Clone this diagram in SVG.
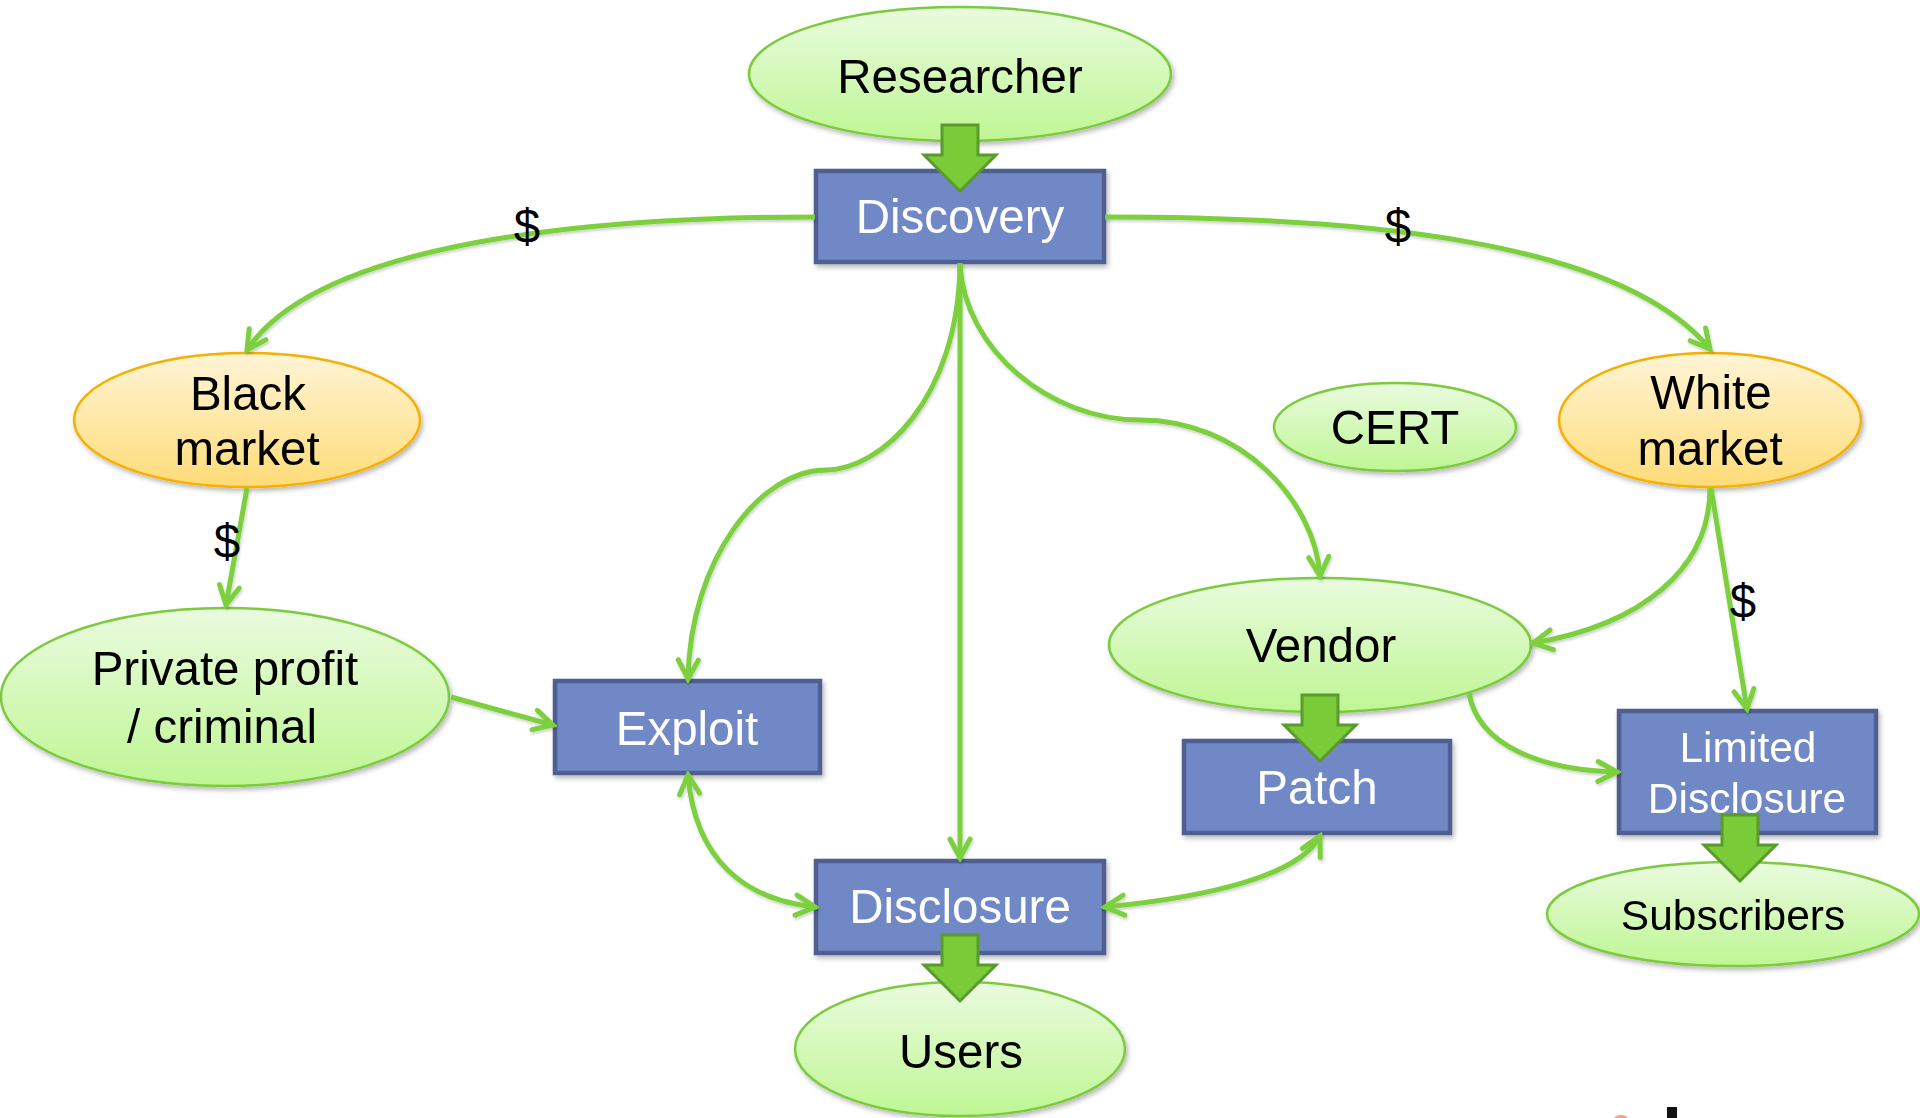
<svg xmlns="http://www.w3.org/2000/svg" width="1920" height="1118" viewBox="0 0 1920 1118">
<style>
  .g { fill: url(#gGreen); stroke: #7CCB3E; stroke-width: 2.5; }
  .y { fill: url(#gYellow); stroke: #F5B000; stroke-width: 2.5; }
  .b { fill: #7089C6; stroke: #4F6190; stroke-width: 4.5; }
  .t { font-family: "Liberation Sans", Arial, sans-serif; font-size: 47.5px; text-anchor: middle; fill: #000; }
  .w { fill: #fff; }
  .s { font-size: 42.5px; }
  .c { fill: none; stroke: #7CD03C; stroke-width: 5; }
  .blk { fill: #7ACD38; stroke: #5B9A2C; stroke-width: 3; stroke-linejoin: miter; }
  .sh { filter: url(#shadow); }
</style>
<defs>
  <linearGradient id="gGreen" x1="0" y1="0" x2="0" y2="1">
    <stop offset="0" stop-color="#EAFBDF"/>
    <stop offset="1" stop-color="#BFF694"/>
  </linearGradient>
  <linearGradient id="gYellow" x1="0" y1="0" x2="0" y2="1">
    <stop offset="0" stop-color="#FFF4D6"/>
    <stop offset="1" stop-color="#FFDC78"/>
  </linearGradient>
  <filter id="shadow" x="-10%" y="-10%" width="130%" height="140%">
    <feDropShadow dx="2" dy="3" stdDeviation="2.5" flood-color="#000" flood-opacity="0.28"/>
  </filter>
  <filter id="lshadow" x="-5%" y="-5%" width="110%" height="115%">
    <feDropShadow dx="1" dy="2" stdDeviation="1.5" flood-color="#000" flood-opacity="0.2"/>
  </filter>
  <marker id="arr" markerUnits="userSpaceOnUse" markerWidth="30" markerHeight="30" viewBox="0 0 30 30" refX="26" refY="15" orient="auto-start-reverse">
    <path d="M7,5 L26,15 L7,25" fill="none" stroke="#7CD03C" stroke-width="5" stroke-linecap="round" stroke-linejoin="miter"/>
  </marker>
  <path id="bigArrow" d="M-18,0 H18 V30 H36 L0,66 L-36,30 H-18 Z"/>
</defs>

<rect width="1920" height="1118" fill="#fff"/>

<g id="nodes">
  <g id="researcher" class="sh">
    <ellipse class="g" cx="960" cy="74" rx="211" ry="67"/>
    <text class="t" x="960" y="93">Researcher</text>
  </g>
  <g id="discovery" class="sh">
    <rect class="b" x="816" y="171" width="288" height="91"/>
    <text class="t w" x="960" y="233">Discovery</text>
  </g>
  <g id="black-market" class="sh">
    <ellipse class="y" cx="247" cy="420" rx="173" ry="67"/>
    <text class="t" x="248" y="410">Black</text>
    <text class="t" x="247" y="465">market</text>
  </g>
  <g id="white-market" class="sh">
    <ellipse class="y" cx="1710" cy="420" rx="151" ry="67"/>
    <text class="t" x="1711" y="409">White</text>
    <text class="t" x="1710" y="465">market</text>
  </g>
  <g id="cert" class="sh">
    <ellipse class="g" cx="1395" cy="427" rx="121" ry="44"/>
    <text class="t" x="1395" y="444">CERT</text>
  </g>
  <g id="private-profit" class="sh">
    <ellipse class="g" cx="225" cy="697" rx="224" ry="89"/>
    <text class="t" x="225" y="685">Private profit</text>
    <text class="t" x="222" y="743">/ criminal</text>
  </g>
  <g id="exploit" class="sh">
    <rect class="b" x="555" y="681" width="265" height="92"/>
    <text class="t w" x="687" y="745">Exploit</text>
  </g>
  <g id="vendor" class="sh">
    <ellipse class="g" cx="1320" cy="645" rx="211" ry="67"/>
    <text class="t" x="1321" y="662">Vendor</text>
  </g>
  <g id="patch" class="sh">
    <rect class="b" x="1184" y="741" width="266" height="92"/>
    <text class="t w" x="1317" y="804">Patch</text>
  </g>
  <g id="limited-disclosure" class="sh">
    <rect class="b" x="1619" y="711" width="257" height="122"/>
    <text class="t w s" x="1748" y="762">Limited</text>
    <text class="t w s" x="1747" y="813">Disclosure</text>
  </g>
  <g id="subscribers" class="sh">
    <ellipse class="g" cx="1733" cy="914" rx="186" ry="52"/>
    <text class="t s" x="1733" y="930">Subscribers</text>
  </g>
  <g id="disclosure" class="sh">
    <rect class="b" x="816" y="861" width="288" height="92"/>
    <text class="t w" x="960" y="923">Disclosure</text>
  </g>
  <g id="users" class="sh">
    <ellipse class="g" cx="960" cy="1049" rx="165" ry="67"/>
    <text class="t" x="961" y="1068">Users</text>
  </g>
</g>

<g id="connectors">
  <g filter="url(#lshadow)">
    <path class="c" d="M815,217 C600,217 320,240 247,350" marker-end="url(#arr)"/>
    <path class="c" d="M1105,217 C1360,217 1620,240 1710,349" marker-end="url(#arr)"/>
    <path class="c" d="M247,488 L226,605" marker-end="url(#arr)"/>
    <path class="c" d="M1711,488 L1747,709" marker-end="url(#arr)"/>
    <path class="c" d="M1710,488 C1710,570 1640,625 1533,643" marker-end="url(#arr)"/>
    <path class="c" d="M451,697 L553,725" marker-end="url(#arr)"/>
    <path class="c" d="M960,265 C958,400 880,470 826,470 C760,470 690,560 688,679" marker-end="url(#arr)"/>
    <path class="c" d="M960,265 C965,350 1050,420 1140,420 C1240,420 1315,500 1320,576" marker-end="url(#arr)"/>
    <path class="c" d="M960,263 L960,858" marker-end="url(#arr)"/>
    <path class="c" d="M1469,693 C1478,745 1540,770 1617,772" marker-end="url(#arr)"/>
    <path class="c" d="M688,775 C695,860 745,900 815,907" marker-start="url(#arr)" marker-end="url(#arr)"/>
    <path class="c" d="M1105,907 C1210,897 1300,875 1320,836" marker-start="url(#arr)" marker-end="url(#arr)"/>
  </g>
  <use href="#bigArrow" class="blk" x="960" y="125"/>
  <use href="#bigArrow" class="blk" x="1320" y="695"/>
  <use href="#bigArrow" class="blk" x="1740" y="815"/>
  <use href="#bigArrow" class="blk" x="960" y="935"/>
  <text class="t" x="527" y="243">$</text>
  <text class="t" x="1398" y="243">$</text>
  <text class="t" x="227" y="558">$</text>
  <text class="t" x="1743" y="618">$</text>
</g>

<ellipse cx="1621" cy="1119" rx="7" ry="4" fill="#F4A08A"/>
<rect x="1667" y="1107" width="10" height="11" fill="#111"/>
</svg>
